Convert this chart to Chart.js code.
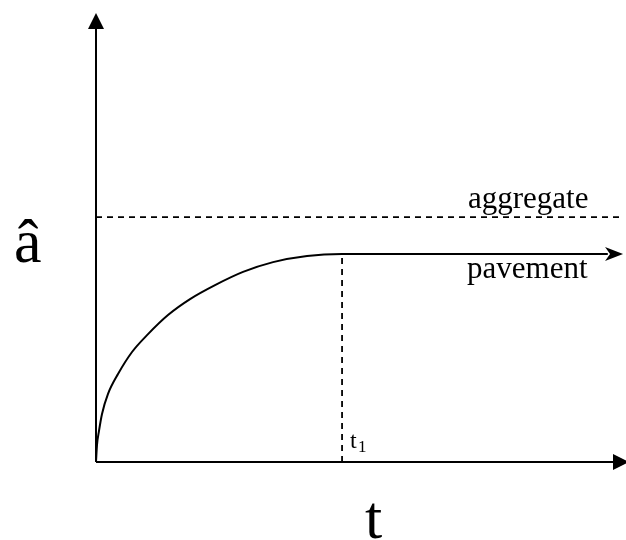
<!DOCTYPE html>
<html>
<head>
<meta charset="utf-8">
<script src="https://cdn.jsdelivr.net/npm/chart.js@4"></script>
<style>
  html, body { margin: 0; padding: 0; background: #fff; }
  #wrap { width: 626px; height: 540px; }
</style>
</head>
<body>
<div id="wrap"><canvas id="myCanvas"></canvas></div>
<script>
'use strict';

// curve (t, â)
const curveT = [0, 0.020, 0.061, 0.122, 0.244, 0.447, 0.732, 1.057, 1.463, 1.911, 2.419, 2.988, 3.598, 4.289, 5.0, 10.4];
const curveA = [0, 0.069, 0.127, 0.196, 0.278, 0.359, 0.449, 0.522, 0.600, 0.665, 0.722, 0.776, 0.816, 0.841, 0.849, 0.849];

const t1 = 5.0;
const plateau = 0.849;
const aggregateLevel = 1.0;
const aggregateEnd = 10.69;
const pavementTip = 10.71;

const xMax = 10.77;
const yMax = 1.833;

const yLabel = 'â';
const xLabel = 't';
const labels = ['aggregate', 'pavement'];

const serif = '"Liberation Serif", "Times New Roman", serif';

const ctx = document.getElementById('myCanvas').getContext('2d');

function pts(xs, ys) {
  return xs.map((x, i) => ({ x: x, y: ys[i] }));
}

const solid = { borderColor: '#000', borderWidth: 2, pointRadius: 0, fill: false, clip: false };
const dashed = { borderColor: '#000', borderWidth: 1.8, borderDash: [6, 5], pointRadius: 0, fill: false, clip: false };

// arrows and text labels
const decorations = {
  id: 'decorations',
  afterDatasetsDraw(chart) {
    const c = chart.ctx;
    const xs = chart.scales.x, ys = chart.scales.y;
    const X = v => xs.getPixelForValue(v);
    const Y = v => ys.getPixelForValue(v);
    c.save();
    c.fillStyle = '#000';

    // y axis arrowhead
    c.beginPath();
    c.moveTo(X(0), Y(yMax));
    c.lineTo(X(0) - 8, Y(yMax) + 16);
    c.lineTo(X(0) + 8, Y(yMax) + 16);
    c.closePath();
    c.fill();

    // x axis arrowhead
    c.beginPath();
    c.moveTo(X(xMax) + 3, Y(0));
    c.lineTo(X(xMax) - 13, Y(0) - 8);
    c.lineTo(X(xMax) - 13, Y(0) + 8);
    c.closePath();
    c.fill();

    // pavement arrowhead (barbed)
    const px = X(pavementTip), py = Y(plateau);
    c.beginPath();
    c.moveTo(px, py);
    c.lineTo(px - 18, py - 7);
    c.lineTo(px - 13, py);
    c.lineTo(px - 18, py + 7);
    c.closePath();
    c.fill();

    c.textBaseline = 'alphabetic';
    c.textAlign = 'left';
    c.font = '31px ' + serif;
    c.fillText(labels[0], 468, Y(aggregateLevel) - 9);
    c.fillText(labels[1], 467, Y(plateau) + 24);

    c.font = '24px ' + serif;
    c.fillText('t', X(t1) + 8, Y(0) - 14);
    c.font = '17px ' + serif;
    c.fillText('1', X(t1) + 16, Y(0) - 10);

    c.font = '62px ' + serif;
    c.fillText(yLabel, 14, 262);
    c.fillText(xLabel, 365, 538);
    c.restore();
  }
};

new Chart(ctx, {
  type: 'line',
  data: {
    datasets: [
      Object.assign({ data: pts(curveT, curveA), cubicInterpolationMode: 'monotone' }, solid),
      Object.assign({ data: [{ x: 0, y: aggregateLevel }, { x: aggregateEnd, y: aggregateLevel }] }, dashed),
      Object.assign({ data: [{ x: t1, y: 0 }, { x: t1, y: plateau }] }, dashed),
      Object.assign({ data: [{ x: 0, y: 0 }, { x: 0, y: yMax - 0.05 }] }, solid),
      Object.assign({ data: [{ x: 0, y: 0 }, { x: xMax - 0.2, y: 0 }] }, solid)
    ]
  },
  plugins: [decorations],
  options: {
    responsive: true,
    maintainAspectRatio: false,
    animation: false,
    layout: { padding: { left: 96, right: 0, top: 13, bottom: 78 } },
    plugins: { legend: { display: false }, tooltip: { enabled: false } },
    scales: {
      x: { type: 'linear', min: 0, max: xMax, display: false },
      y: { type: 'linear', min: 0, max: yMax, display: false }
    }
  }
});
</script>
</body>
</html>
